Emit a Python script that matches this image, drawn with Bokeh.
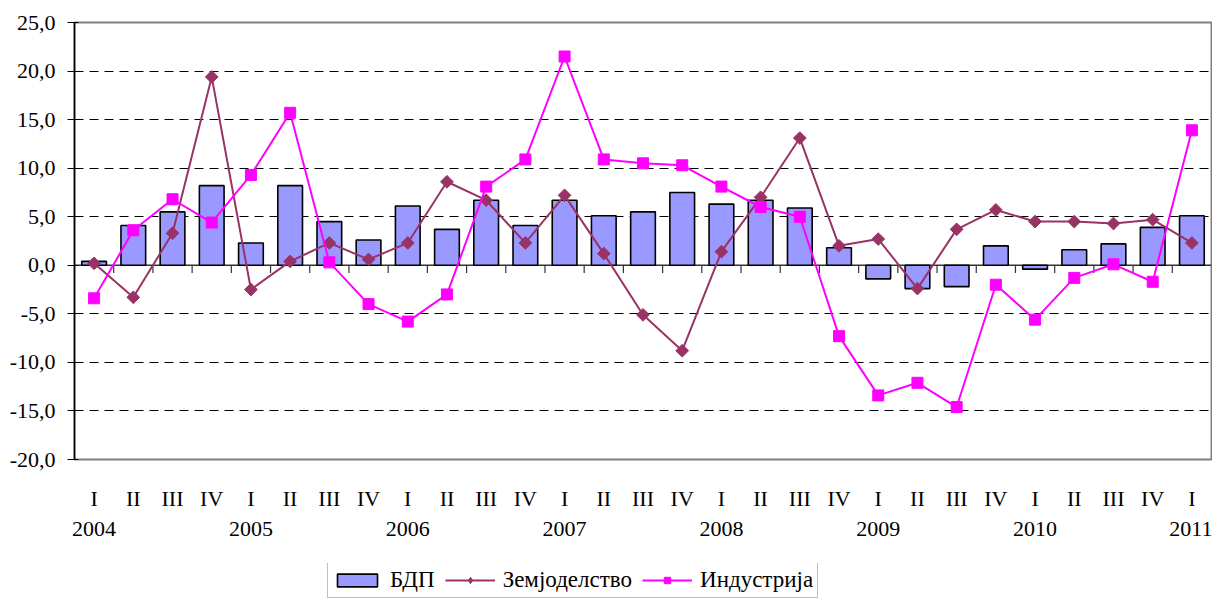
import math
import numpy as np
from bokeh.plotting import figure
from bokeh.layouts import column
from bokeh.models import (FixedTicker, LinearAxis, Legend, LegendItem, Range1d, Span)
from bokeh.embed import file_html
from bokeh.resources import INLINE

# ---- data ----
quarters = ["I", "II", "III", "IV"] * 7 + ["I"]
years = ["2004", "2005", "2006", "2007", "2008", "2009", "2010", "2011"]
bdp = [0.4, 4.1, 5.5, 8.2, 2.3, 8.2, 4.5, 2.6, 6.1, 3.7,
       6.7, 4.1, 6.7, 5.1, 5.5, 7.5, 6.3, 6.7, 5.9, 1.8,
       -1.4, -2.4, -2.2, 2.0, -0.4, 1.6, 2.2, 3.9, 5.1]
zem = [0.2, -3.3, 3.3, 19.4, -2.5, 0.4, 2.3, 0.6, 2.3, 8.6,
       6.7, 2.3, 7.2, 1.2, -5.1, -8.8, 1.4, 7.0, 13.1, 2.0,
       2.7, -2.4, 3.7, 5.7, 4.5, 4.5, 4.3, 4.7, 2.3]
ind = [-3.4, 3.6, 6.8, 4.4, 9.3, 15.7, 0.3, -4.0, -5.8, -3.0,
       8.1, 10.9, 21.5, 10.9, 10.5, 10.3, 8.1, 6.0, 5.0, -7.3,
       -13.4, -12.1, -14.6, -2.0, -5.6, -1.3, 0.1, -1.7, 13.9]
y_ticks = [-20, -15, -10, -5, 0, 5, 10, 15, 20, 25]
grid_ticks = [-15, -10, -5, 5, 10, 15, 20]
series_names = ["БДП", "Земјоделство", "Индустрија"]

n = len(quarters)
x = [i + 0.5 for i in range(n)]
year_x = [x[i] for i in range(0, n, 4)]
bounds = [float(i) for i in range(1, n)]

FONT = "Liberation Serif"
FS = "22px"
C_BAR = "#9999FF"
C_ZEM = "#993366"
C_IND = "#FF00FF"

p = figure(width=1212, height=563, x_range=Range1d(0, n), y_range=Range1d(-20, 25),
           output_backend="svg", toolbar_location=None,
           min_border_left=74, min_border_right=1, min_border_top=22, min_border_bottom=104)
p.background_fill_color = "white"
p.border_fill_color = "white"
p.outline_line_color = "#808080"
p.outline_line_width = 2

# grid
p.xgrid.visible = False
p.ygrid.ticker = FixedTicker(ticks=grid_ticks)
p.ygrid.grid_line_color = "black"
p.ygrid.grid_line_dash = "9 6"
p.ygrid.grid_line_width = 1

# y axis
p.yaxis.ticker = FixedTicker(ticks=y_ticks)
p.yaxis.major_label_overrides = {t: f"{t},0" for t in y_ticks}
p.yaxis.axis_line_color = "black"
p.yaxis.axis_line_width = 1.5
p.yaxis.major_tick_line_color = "black"
p.yaxis.major_tick_out = 7
p.yaxis.major_tick_in = 4
p.yaxis.minor_tick_line_color = None
p.yaxis.major_label_standoff = 12
p.yaxis.major_label_text_font = FONT
p.yaxis.major_label_text_font_size = FS
p.yaxis.major_label_text_color = "black"

# x axis: quarters
xa = p.xaxis[0]
xa.ticker = FixedTicker(ticks=x)
xa.major_label_overrides = {xi: q for xi, q in zip(x, quarters)}
xa.axis_line_color = None
xa.major_tick_line_color = None
xa.minor_tick_line_color = None
xa.major_tick_out = 0
xa.major_tick_in = 0
xa.major_label_standoff = 26
xa.major_label_text_font = FONT
xa.major_label_text_font_size = FS
xa.major_label_text_color = "black"

# x axis: years
ya = LinearAxis(ticker=FixedTicker(ticks=year_x),
                major_label_overrides={xi: yr for xi, yr in zip(year_x, years)})
ya.axis_line_color = None
ya.major_tick_line_color = None
ya.minor_tick_line_color = None
ya.major_tick_out = 0
ya.major_tick_in = 0
ya.major_label_standoff = 8
ya.major_label_text_font = FONT
ya.major_label_text_font_size = FS
ya.major_label_text_color = "black"
p.add_layout(ya, "below")

# zero line and category ticks
p.add_layout(Span(location=0, dimension="width", line_color="#333333", line_width=1.5, level="underlay"))
p.segment(x0=bounds, y0=[0] * len(bounds), x1=bounds, y1=[-0.8] * len(bounds),
          line_color="#333333", line_width=1.2)

bars = p.vbar(x=x, top=bdp, bottom=0, width=0.63, fill_color=C_BAR,
              line_color="black", line_width=1.6)
zl = p.line(x, zem, line_color=C_ZEM, line_width=2)
zs = p.scatter(x, zem, marker="square", angle=math.pi / 4, size=9,
               fill_color=C_ZEM, line_color=C_ZEM)
il = p.line(x, ind, line_color=C_IND, line_width=2)
isq = p.scatter(x, ind, marker="square", size=11, fill_color=C_IND, line_color=C_IND)

# ---- legend strip (separate figure below the chart; its renderers hold no drawable data) ----
lf = figure(width=1212, height=36, x_range=Range1d(0, 1), y_range=Range1d(0, 1),
            output_backend="svg", toolbar_location=None,
            x_axis_location=None, y_axis_location=None, min_border=0)
lf.grid.visible = False
lf.outline_line_color = None
lf.background_fill_color = "white"
lf.border_fill_color = "white"
nan = np.array([np.nan])
lb = lf.vbar(x=nan, top=nan, width=0.5, fill_color=C_BAR, line_color="black", line_width=1.6)
lzl = lf.line(nan, nan, line_color=C_ZEM, line_width=2)
lzs = lf.scatter(nan, nan, marker="diamond", size=14, fill_color=C_ZEM, line_color=C_ZEM)
lil = lf.line(nan, nan, line_color=C_IND, line_width=2)
lis = lf.scatter(nan, nan, marker="square", size=10, fill_color=C_IND, line_color=C_IND)

legend = Legend(items=[LegendItem(label=series_names[0], renderers=[lb]),
                       LegendItem(label=series_names[1], renderers=[lzl, lzs]),
                       LegendItem(label=series_names[2], renderers=[lil, lis])],
                orientation="horizontal", location=(253, 1))
legend.border_line_color = "#808080"
legend.border_line_width = 1
legend.background_fill_color = "white"
legend.background_fill_alpha = 1
legend.label_text_font = FONT
legend.label_text_font_size = "23px"
legend.label_text_color = "black"
legend.glyph_width = 50
legend.glyph_height = 16
legend.spacing = 10
legend.padding = 4
legend.label_standoff = 8
legend.margin = 0
lf.add_layout(legend)

layout = column(p, lf, spacing=0)
open("out.html", "w").write(file_html(layout, INLINE))
